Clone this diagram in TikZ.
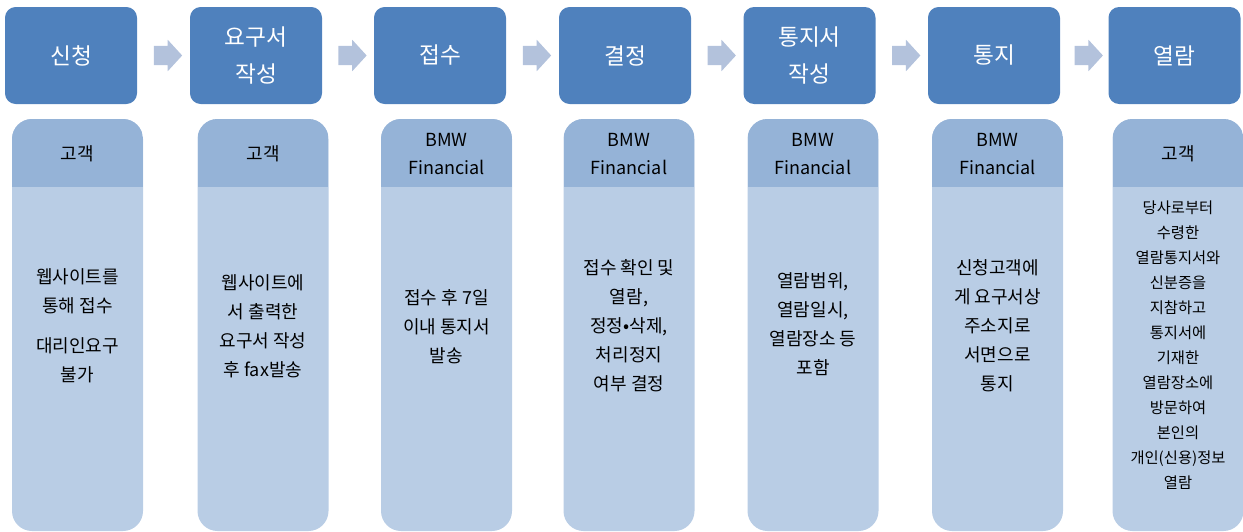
\documentclass[tikz,border=0pt]{standalone}
\usepackage{fontspec}
\setmainfont{Noto Sans CJK KR}
\usetikzlibrary{shapes.arrows, calc}
\definecolor{phaseblue}{HTML}{4F81BD}
\definecolor{headblue}{HTML}{95B3D7}
\definecolor{bodyblue}{HTML}{B9CDE5}
\definecolor{arrowblue}{HTML}{B3C2DC}
\tikzset{
  phase/.style={rectangle, rounded corners=8pt, fill=phaseblue, text=white, minimum width=99pt, minimum height=72.75pt, align=center, font=\fontsize{17pt}{27.75pt}\selectfont},
  lane/.style={rectangle, rounded corners=15pt, fill=bodyblue, minimum width=98.25pt, minimum height=309pt,
    path picture={\fill[headblue, sharp corners] (path picture bounding box.north west) rectangle ([yshift=-51pt]path picture bounding box.north east);}},
  who/.style={align=center, font=\fontsize{13.5pt}{21pt}\selectfont},
  detail/.style={align=center, font=\fontsize{13.5pt}{21.75pt}\selectfont},
  flow/.style={single arrow, fill=arrowblue, inner sep=7.1pt, single arrow head extend=4.5pt, single arrow tip angle=95, minimum height=21pt}
}
\begin{document}
\begin{tikzpicture}[x=0.75pt, y=-0.75pt]
        \useasboundingbox (0,0) rectangle (1243,532);
        \node[phase] (s1) at (71,55.5) {신청};
        \node[phase] (s2) at (256,55.5) {요구서\\작성};
        \node[phase] (s3) at (440,55.5) {접수};
        \node[phase] (s4) at (625,55.5) {결정};
        \node[phase] (s5) at (809.5,55.5) {통지서\\작성};
        \node[phase] (s6) at (994,55.5) {통지};
        \node[phase] (s7) at (1174.5,55.5) {열람};
        \node[flow] (a1) at ($(s1.east)!0.5!(s2.west)$) {};
        \node[flow] (a2) at ($(s2.east)!0.5!(s3.west)$) {};
        \node[flow] (a3) at ($(s3.east)!0.5!(s4.west)$) {};
        \node[flow] (a4) at ($(s4.east)!0.5!(s5.west)$) {};
        \node[flow] (a5) at ($(s5.east)!0.5!(s6.west)$) {};
        \node[flow] (a6) at ($(s6.east)!0.5!(s7.west)$) {};
        \node[lane] (l1) at (77.5,325) {};
        \node[lane] (l2) at (263,325) {};
        \node[lane] (l3) at (446.5,325) {};
        \node[lane] (l4) at (629,325) {};
        \node[lane] (l5) at (813,325) {};
        \node[lane] (l6) at (997.5,325) {};
        \node[lane] (l7) at (1178,325) {};
        \node[who] (w1) at (77.5,154) {고객};
        \node[who] (w2) at (263,154) {고객};
        \node[who] (w3) at (446.5,154) {BMW\\Financial};
        \node[who] (w4) at (629,154) {BMW\\Financial};
        \node[who] (w5) at (813,154) {BMW\\Financial};
        \node[who] (w6) at (997.5,154) {BMW\\Financial};
        \node[who] (w7) at (1178,154) {고객};
        \node[detail] (d1) at (77.5,326) {웹사이트를\\통해 접수\\[8pt]대리인요구\\불가};
        \node[detail] (d2) at (263,326) {웹사이트에\\서 출력한\\요구서 작성\\후 fax발송};
        \node[detail] (d3) at (446.5,327) {접수 후 7일\\이내 통지서\\발송};
        \node[detail] (d4) at (629,326) {접수 확인 및\\열람,\\정정•삭제,\\처리정지\\여부 결정};
        \node[detail] (d5) at (813,324) {열람범위,\\열람일시,\\열람장소 등\\포함};
        \node[detail] (d6) at (997.5,326) {신청고객에\\게 요구서상\\주소지로\\서면으로\\통지};
        \node[detail, font=\fontsize{11.5pt}{18.75pt}\selectfont] (d7) at (1178,345) {당사로부터\\수령한\\열람통지서와\\신분증을\\지참하고\\통지서에\\기재한\\열람장소에\\방문하여\\본인의\\개인(신용)정보\\열람};
      \end{tikzpicture}
\end{document}
